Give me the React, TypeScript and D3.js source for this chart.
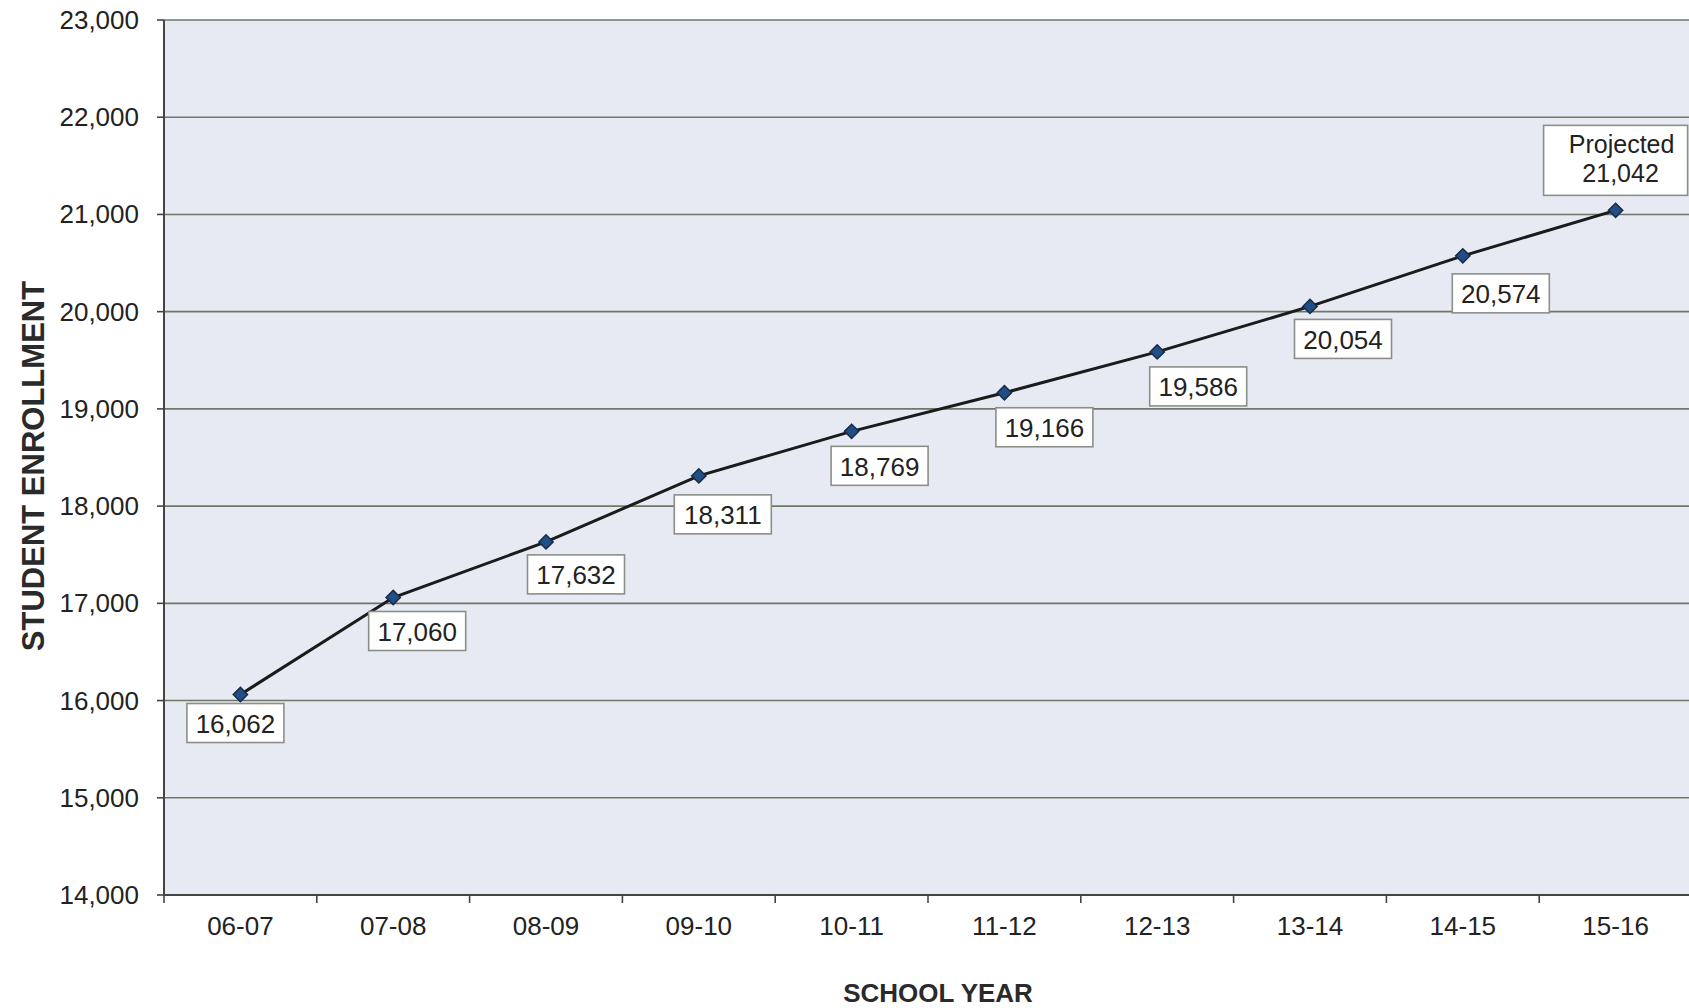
import React from "react";
import * as d3 from "d3";

const years = ["06-07", "07-08", "08-09", "09-10", "10-11", "11-12", "12-13", "13-14", "14-15", "15-16"];
const enrollment = [16062, 17060, 17632, 18311, 18769, 19166, 19586, 20054, 20574, 21042];
const labelPrefix = ["", "", "", "", "", "", "", "", "", "Projected"];
const yTicks = [14000, 15000, 16000, 17000, 18000, 19000, 20000, 21000, 22000, 23000];
// label box offsets relative to point (dx of box centre, dy of box top; negative = above)
const labelDx = [-5, 24, 30, 24, 28, 40, 41, 33, 38, 0];
const labelDy = [9, 14, 13, 19, 15, 15, 15, 13, 18, -85];

const W = 1689, H = 1008;
const M = { left: 164, right: 1692, top: 20, bottom: 895 };

export default function App() {
  const x = d3.scaleBand<string>().domain(years).range([M.left, M.right]).padding(0);
  const y = d3.scaleLinear().domain([14000, 23000]).range([M.bottom, M.top]);
  const fmt = d3.format(",");
  const cx = (i: number) => (x(years[i]) as number) + x.bandwidth() / 2;
  const line = d3.line<number>().x((_, i) => cx(i)).y((d) => y(d));
  const font = "'Liberation Sans', Arial, sans-serif";
  const boundaries = years.map((yr) => x(yr) as number).concat([M.right]);

  return (
    <svg width={W} height={H} style={{ position: "absolute", left: 0, top: 0, background: "#fff" }} fontFamily={font}>
      <rect x={M.left} y={M.top} width={M.right - M.left} height={M.bottom - M.top} fill="#e7e9f3" />
      {yTicks.map((t) => (
        <g key={t}>
          <line x1={M.left} x2={M.right} y1={y(t)} y2={y(t)} stroke="#6e7866" strokeWidth={1.6} />
          <line x1={M.left - 7} x2={M.left} y1={y(t)} y2={y(t)} stroke="#444" strokeWidth={1.6} />
          <text x={139} y={y(t)} textAnchor="end" dominantBaseline="central" fontSize={26} fill="#222">
            {fmt(t)}
          </text>
        </g>
      ))}
      <line x1={M.left} x2={M.left} y1={M.top} y2={M.bottom} stroke="#444" strokeWidth={2} />
      <line x1={M.left} x2={M.right} y1={M.bottom} y2={M.bottom} stroke="#444" strokeWidth={2} />
      {boundaries.map((b, i) => (
        <line key={i} x1={b} x2={b} y1={M.bottom} y2={M.bottom + 8} stroke="#444" strokeWidth={1.6} />
      ))}
      {years.map((yr, i) => (
        <text key={yr} x={cx(i)} y={926} textAnchor="middle" dominantBaseline="central" fontSize={26} fill="#222">
          {yr}
        </text>
      ))}
      <path d={line(enrollment) || ""} fill="none" stroke="#1b1b1b" strokeWidth={3} />
      {enrollment.map((v, i) => (
        <path
          key={i}
          d={d3.symbol(d3.symbolDiamond2, 130)() || ""}
          transform={`translate(${cx(i)},${y(v)})`}
          fill="#1f4f86"
          stroke="#1a2b45"
          strokeWidth={1.5}
        />
      ))}
      {enrollment.map((v, i) => {
        const px = cx(i) + labelDx[i];
        const top = y(v) + labelDy[i];
        const two = labelPrefix[i] !== "";
        const w = two ? 144 : 97;
        const h = two ? 70 : 39;
        return (
          <g key={"l" + i}>
            <rect x={px - w / 2} y={top} width={w} height={h} fill="#fff" stroke="#8a8f88" strokeWidth={1.6} />
            {two ? (
              <>
                <text x={px + 6} y={top + 19} textAnchor="middle" dominantBaseline="central" fontSize={25} fill="#222">
                  {labelPrefix[i]}
                </text>
                <text x={px + 5} y={top + 48} textAnchor="middle" dominantBaseline="central" fontSize={25} fill="#222">
                  {fmt(v)}
                </text>
              </>
            ) : (
              <text x={px} y={top + h / 2 + 1} textAnchor="middle" dominantBaseline="central" fontSize={26} fill="#222">
                {fmt(v)}
              </text>
            )}
          </g>
        );
      })}
      <text x={938} y={993} textAnchor="middle" dominantBaseline="central" fontSize={26} fontWeight="bold" fill="#2a2a2a">
        SCHOOL YEAR
      </text>
      <text
        transform={`translate(33,466) rotate(-90)`}
        textAnchor="middle"
        dominantBaseline="central"
        fontSize={31}
        fontWeight="bold"
        fill="#2a2a2a"
      >
        STUDENT ENROLLMENT
      </text>
    </svg>
  );
}
